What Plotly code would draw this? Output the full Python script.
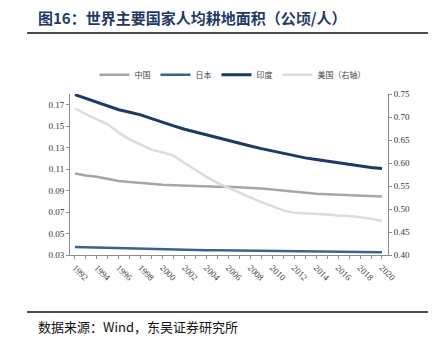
import plotly.graph_objects as go

years = list(range(1992, 2021))
china = [0.106, 0.104, 0.103, 0.101, 0.099, 0.098, 0.097, 0.096, 0.0955, 0.095,
         0.0945, 0.094, 0.094, 0.0935, 0.0935, 0.093, 0.093, 0.092, 0.091, 0.090,
         0.0885, 0.0878, 0.087, 0.0865, 0.086, 0.0855, 0.085, 0.0847, 0.0845]
japan = [0.0375, 0.0372, 0.037, 0.0368, 0.0365, 0.0362, 0.036, 0.0357, 0.0353, 0.035,
         0.0348, 0.0347, 0.0345, 0.0344, 0.0343, 0.0342, 0.034, 0.0339, 0.0338, 0.0337,
         0.0335, 0.0334, 0.0333, 0.0332, 0.033, 0.0329, 0.0328, 0.0327, 0.0325]
india = [0.1794, 0.1758, 0.1722, 0.1688, 0.1653, 0.1630, 0.1606, 0.1570, 0.1534, 0.1503,
         0.1472, 0.1445, 0.1418, 0.1390, 0.1362, 0.1338, 0.1315, 0.1291, 0.1268, 0.1245,
         0.1221, 0.1205, 0.1190, 0.1174, 0.1158, 0.1142, 0.1127, 0.1116, 0.1105]
usa = [0.719, 0.706, 0.695, 0.684, 0.666, 0.651, 0.640, 0.629, 0.623, 0.616,
       0.600, 0.585, 0.570, 0.557, 0.546, 0.535, 0.525, 0.515, 0.506, 0.497,
       0.492, 0.491, 0.490, 0.488, 0.486, 0.485, 0.482, 0.479, 0.474]

left_ticks = [0.03, 0.05, 0.07, 0.09, 0.11, 0.13, 0.15, 0.17]
right_ticks = [0.40, 0.45, 0.50, 0.55, 0.60, 0.65, 0.70, 0.75]
x_ticks = list(range(1992, 2021, 2))

serif = "Liberation Serif, Times New Roman, serif"
cjk = "Noto Sans CJK SC, sans-serif"

fig = go.Figure()
fig.add_trace(go.Scatter(x=years, y=china, name="中国", mode="lines",
                         line=dict(color="#A6A6A6", width=2.5)))
fig.add_trace(go.Scatter(x=years, y=japan, name="日本", mode="lines",
                         line=dict(color="#3A6096", width=2.5)))
fig.add_trace(go.Scatter(x=years, y=india, name="印度", mode="lines",
                         line=dict(color="#1B3A66", width=3)))
fig.add_trace(go.Scatter(x=years, y=usa, name="美国（右轴）", mode="lines", yaxis="y2",
                         line=dict(color="#DCDCDC", width=2.5)))

axis_col = "#8C8C8C"
fig.update_layout(
    width=439, height=344,
    margin=dict(l=70, r=51, t=94, b=89),
    paper_bgcolor="white", plot_bgcolor="white",
    showlegend=True,
    legend=dict(orientation="h", x=0.077, y=1.12, xanchor="left", yanchor="middle",
                font=dict(family=cjk, size=8, color="#444"),
                itemwidth=30, bgcolor="rgba(0,0,0,0)"),
    xaxis=dict(range=[1991.55, 2020.55], tickmode="array", tickvals=x_ticks,
               ticktext=[str(v) for v in x_ticks], tickangle=45,
               tickfont=dict(family=serif, size=9, color="#444"),
               showgrid=False, zeroline=False, showline=True, linecolor=axis_col,
               linewidth=1, ticks="outside", ticklen=3, tickcolor=axis_col,
               minor=dict(dtick=1, tick0=1992, ticks="outside", ticklen=3, tickcolor=axis_col)),
    yaxis=dict(range=[0.03, 0.18], tickmode="array", tickvals=left_ticks,
               ticktext=[f"{v:.2f}" for v in left_ticks],
               tickfont=dict(family=serif, size=9, color="#333"),
               showgrid=False, zeroline=False, showline=True, linecolor=axis_col,
               linewidth=1, ticks="outside", ticklen=3, tickcolor=axis_col),
    yaxis2=dict(range=[0.40, 0.75], overlaying="y", side="right", tickmode="array",
                tickvals=right_ticks, ticktext=[f"{v:.2f}" for v in right_ticks],
                tickfont=dict(family=serif, size=9, color="#333"),
                showgrid=False, zeroline=False, showline=True, linecolor=axis_col,
                linewidth=1, ticks="outside", ticklen=3, tickcolor=axis_col),
)

# title and source
fig.add_annotation(text="<b>图16：世界主要国家人均耕地面积（公顷/人）</b>", xref="paper", yref="paper",
                   x=-0.107, y=1.478, xanchor="left", yanchor="middle", showarrow=False,
                   font=dict(family=cjk, size=15, color="#1F3864"))
fig.add_annotation(text="数据来源：Wind，东吴证券研究所", xref="paper", yref="paper",
                   x=-0.107, y=-0.447, xanchor="left", yanchor="middle", showarrow=False,
                   font=dict(family=cjk, size=13, color="#111"))
fig.add_shape(type="line", xref="paper", yref="paper", x0=-0.135, x1=1.126, y0=1.379, y1=1.379,
              line=dict(color="#111", width=1.5))
fig.add_shape(type="line", xref="paper", yref="paper", x0=-0.135, x1=1.126, y0=-0.354, y1=-0.354,
              line=dict(color="#111", width=1.5))

fig.write_html("out.html")
